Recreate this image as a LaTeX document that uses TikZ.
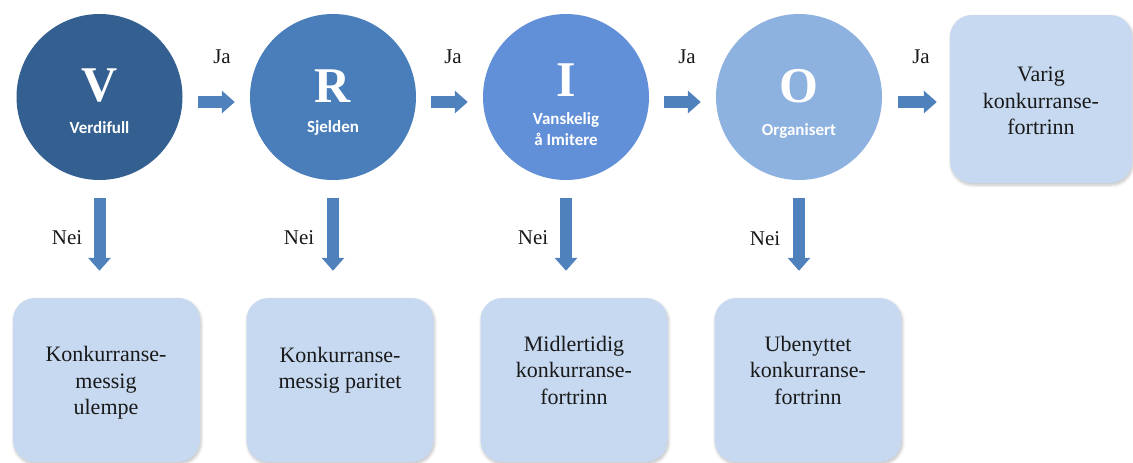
\documentclass[tikz,border=0pt]{standalone}
\usepackage{fontspec}
\setmainfont{Liberation Serif}
\newfontfamily\subfont{Carlito}
\usetikzlibrary{arrows.meta,shadows.blur}
\definecolor{cV}{HTML}{345F91}
\definecolor{cR}{HTML}{4A7EBB}
\definecolor{cI}{HTML}{6290D8}
\definecolor{cO}{HTML}{8EB2E0}
\definecolor{boxc}{HTML}{C6D9F0}
\definecolor{arrc}{HTML}{4F81BD}
\begin{document}
\begin{tikzpicture}[x=1pt,y=-1pt,
  circ/.style={circle, minimum size=166pt, inner sep=0pt, draw=none},
  box/.style={rectangle, rounded corners=22pt, fill=boxc, inner sep=0pt,
    blur shadow={shadow blur steps=6, shadow xshift=1pt, shadow yshift=-2pt, shadow opacity=25, shadow blur radius=3pt}},
  letter/.style={text=white, font=\fontsize{50}{50}\selectfont\bfseries, inner sep=0pt},
  sub/.style={text=white, font=\subfont\fontsize{17}{21}\selectfont\bfseries, align=center, inner sep=0pt},
  txt/.style={font=\fontsize{22}{26.5}\selectfont, align=center, text=black!90, inner sep=0pt},
  lab/.style={font=\fontsize{21}{24}\selectfont, text=black!90, inner sep=0pt},
  flow/.style={draw=arrc, line width=12pt, -{Triangle[width=22pt,length=13pt]}},
]
\useasboundingbox (0,0) rectangle (1133,463);

% circles
\node[circ, fill=cV] (V) at (99.5,97) {};
\node[circ, fill=cR] (R) at (333,97) {};
\node[circ, fill=cI] (I) at (566,97) {};
\node[circ, fill=cO] (O) at (799,97) {};

\node[letter] (Vl) at (99.5,86) {V};
\node[letter] (Rl) at (333,86) {R};
\node[letter] (Il) at (566,80) {I};
\node[letter] (Ol) at (799,86) {O};

\node[sub] (Vs) at (99.5,128) {Verdifull};
\node[sub] (Rs) at (333,128) {Sjelden};
\node[sub] (Is) at (566,129.5) {Vanskelig\\å Imitere};
\node[sub] (Os) at (799,131) {Organisert};

% boxes
\node[box, minimum width=182pt, minimum height=168pt] (G) at (1041,99) {};
\node[box, minimum width=187pt, minimum height=164pt] (B1) at (106.5,380) {};
\node[box, minimum width=187pt, minimum height=164pt] (B2) at (340,380) {};
\node[box, minimum width=187pt, minimum height=164pt] (B3) at (574,380) {};
\node[box, minimum width=187pt, minimum height=164pt] (B4) at (808,380) {};

\node[txt] (Gt) at (1041,101) {Varig\\konkurranse-\\fortrinn};
\node[txt] (B1t) at (106,383) {Konkurranse-\\messig\\ulempe};
\node[txt] (B2t) at (340,370) {Konkurranse-\\messig paritet};
\node[txt] (B3t) at (574,370) {Midlertidig\\konkurranse-\\fortrinn};
\node[txt] (B4t) at (808,370) {Ubenyttet\\konkurranse-\\fortrinn};

% horizontal arrows
\draw[flow, shorten <=15pt, shorten >=15pt] ([yshift=-5pt]V.east) -- ([yshift=-5pt]R.west);
\draw[flow, shorten <=15pt, shorten >=15pt] ([yshift=-5pt]R.east) -- ([yshift=-5pt]I.west);
\draw[flow, shorten <=15pt, shorten >=15pt] ([yshift=-5pt]I.east) -- ([yshift=-5pt]O.west);
\draw[flow, shorten <=16pt, shorten >=13pt] ([yshift=-5pt]O.east) -- ([yshift=-5pt]O.east -| G.west);

% vertical arrows
\draw[flow, shorten <=18pt, shorten >=27pt] (V.south) -- (V.south |- B1.north);
\draw[flow, shorten <=18pt, shorten >=27pt] (R.south) -- (R.south |- B2.north);
\draw[flow, shorten <=18pt, shorten >=27pt] (I.south) -- (I.south |- B3.north);
\draw[flow, shorten <=18pt, shorten >=27pt] (O.south) -- (O.south |- B4.north);

% labels
\node[lab] (J1) at (222,57) {Ja};
\node[lab] (J2) at (453,57) {Ja};
\node[lab] (J3) at (687,57) {Ja};
\node[lab] (J4) at (921,57) {Ja};
\node[lab] (N1) at (67,238) {Nei};
\node[lab] (N2) at (299,238) {Nei};
\node[lab] (N3) at (533,238) {Nei};
\node[lab] (N4) at (765,239) {Nei};
\end{tikzpicture}
\end{document}
